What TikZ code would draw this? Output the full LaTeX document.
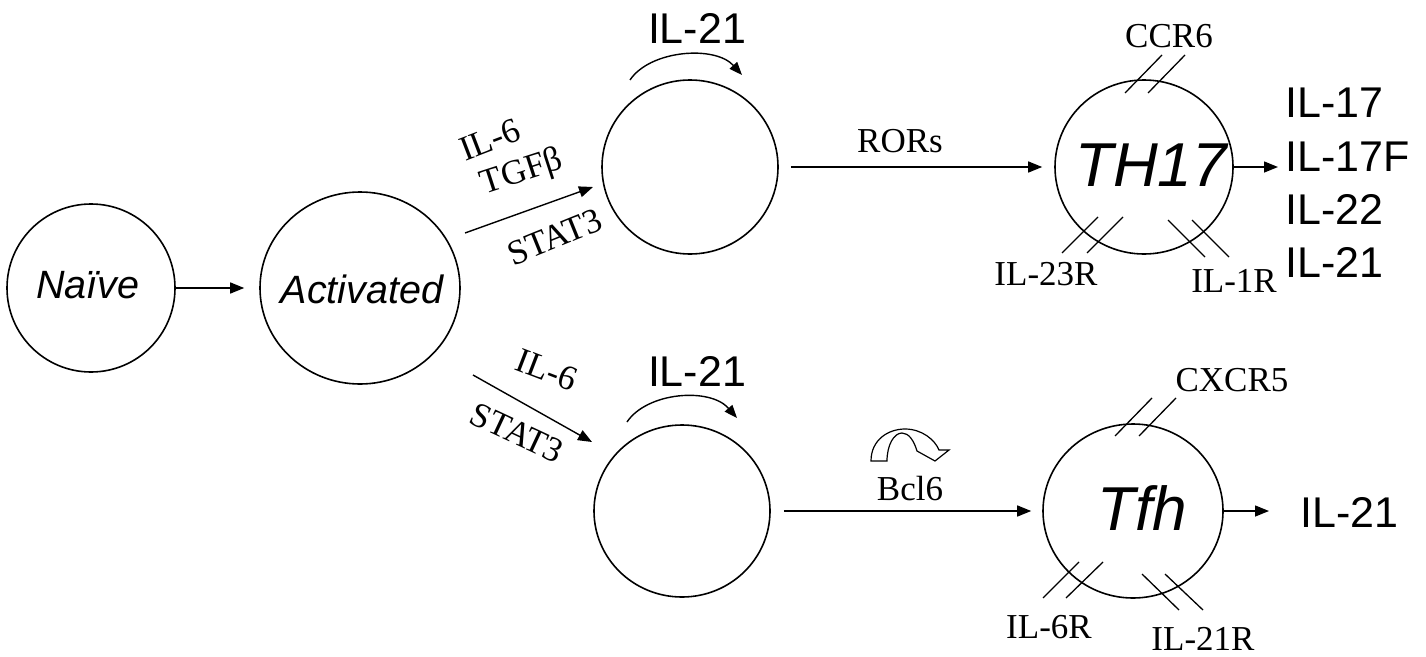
\documentclass[tikz,border=0pt]{standalone}
\usepackage{fontspec}
\setmainfont{Liberation Serif}
\setsansfont{Liberation Sans}
\usetikzlibrary{shapes.geometric,arrows.meta}
\begin{document}
\begin{tikzpicture}[x=1pt,y=-1pt,
  cell/.style={ellipse, draw, line width=1.6pt, inner sep=0pt},
  arr/.style={-{Triangle[length=14pt,width=11pt]}, line width=1.4pt},
  rec/.style={line width=1.3pt},
  lab/.style={inner sep=0pt, font=\fontsize{35}{40}\selectfont},
  bigtxt/.style={inner sep=0pt, font=\sffamily\fontsize{43}{53.3}\selectfont},
  celltxt/.style={inner sep=0pt, font=\sffamily\itshape\fontsize{39.5}{44}\selectfont},
  hugetxt/.style={inner sep=0pt, font=\sffamily\itshape\fontsize{62}{68}\selectfont}]
\useasboundingbox (0,0) rectangle (1426,656);
% cells
\node[cell, minimum width=168pt, minimum height=168pt] (naive) at (91,288) {};
\node[cell, minimum width=200pt, minimum height=192pt] (act) at (360,288) {};
\node[cell, minimum width=176pt, minimum height=174pt] (m1) at (690,167) {};
\node[cell, minimum width=176pt, minimum height=172pt] (m2) at (682,511) {};
\node[cell, minimum width=178pt, minimum height=174pt] (th17) at (1144,167) {};
\node[cell, minimum width=180pt, minimum height=174pt] (tfh) at (1133,511) {};
\node[celltxt] (naivet) at (88,285) {Naïve};
\node[celltxt] (actt) at (362,289) {Activated};
\node[hugetxt] (th17t) at (1151,165) {TH17};
\node[hugetxt] (tfht) at (1142,508) {Tfh};
% main arrows
\draw[arr, shorten >=15pt] (naive) -- (act);
\draw[arr, shorten <=12pt, shorten >=12pt] (m1) -- (th17);
\draw[arr, shorten <=13pt, shorten >=11pt] (m2) -- (tfh);
% diagonal arrows
\coordinate (u1) at (465,233); \coordinate (u2) at (593,187);
\coordinate (l1) at (473,375); \coordinate (l2) at (592,442);
\draw[arr] (u1) -- (u2);
\draw[arr] (l1) -- (l2);
\node[lab, rotate=21] (il6a) at (490,140) {IL-6};
\node[lab, rotate=18] (tgfb) at (522,173) {TGFβ};
\node[lab, rotate=22] (stat3a) at (555,237) {STAT3};
\node[lab, rotate=-21] (il6b) at (547,370) {IL-6};
\node[lab, rotate=-25] (stat3b) at (517,433) {STAT3};
% IL-21 autocrine arrows
\node[bigtxt] (il21a) at (697,28) {IL-21};
\node[bigtxt] (il21b) at (697,371) {IL-21};
\coordinate (a1) at (630,80); \coordinate (a2) at (742,75);
\coordinate (b1) at (627,422); \coordinate (b2) at (737,418);
\draw[-{Triangle[length=13pt,width=10pt]}, line width=1.4pt] (a1) .. controls (650,50) and (715,45) .. (a2);
\draw[-{Triangle[length=13pt,width=10pt]}, line width=1.4pt] (b1) .. controls (647,392) and (710,387) .. (b2);
% labels on arrows
\node[lab, anchor=base] (rors) at (900,152) {RORs};
\node[lab, anchor=base] (bcl6) at (910,500) {Bcl6};
\draw[line width=1.2pt, fill=white] (871,461) .. controls (871,440) and (888,429) .. (905,429)
  .. controls (922,429) and (935,440) .. (939,450) -- (949,450) -- (935,461) -- (917,451)
  .. controls (914,441) and (909,433) .. (902,433) .. controls (894,433) and (887,445) .. (887,461) -- cycle;
% TH17 receptors
\draw[rec] (1125,93) -- (1162,55); \draw[rec] (1148,93) -- (1185,55);
\draw[rec] (1062,253) -- (1098,217); \draw[rec] (1087,253) -- (1123,217);
\draw[rec] (1168,220) -- (1205,257); \draw[rec] (1192,220) -- (1229,257);
\node[lab, anchor=base] (ccr6) at (1169,47) {CCR6};
\node[lab, anchor=base] (il23r) at (1046,285) {IL-23R};
\node[lab, anchor=base] (il1r) at (1234,292) {IL-1R};
% Tfh receptors
\draw[rec] (1115,436) -- (1152,398); \draw[rec] (1139,436) -- (1176,398);
\draw[rec] (1043,598) -- (1079,562); \draw[rec] (1066,598) -- (1103,562);
\draw[rec] (1142,574) -- (1179,610); \draw[rec] (1165,574) -- (1203,610);
\node[lab, anchor=base] (cxcr5) at (1232,391) {CXCR5};
\node[lab, anchor=base] (il6r) at (1049,638) {IL-6R};
\node[lab, anchor=base] (il21r) at (1203,650) {IL-21R};
% outputs
\node[bigtxt, anchor=north west, align=left] (out17) at (1285,88) {IL-17\\IL-17F\\IL-22\\IL-21};
\node[bigtxt, anchor=west] (outtfh) at (1300,512) {IL-21};
\draw[arr, shorten >=7pt] (th17.east) -- (out17.west |- th17.east);
\draw[arr, shorten >=31pt] (tfh.east) -- (outtfh.west |- tfh.east);
\end{tikzpicture}
\end{document}
